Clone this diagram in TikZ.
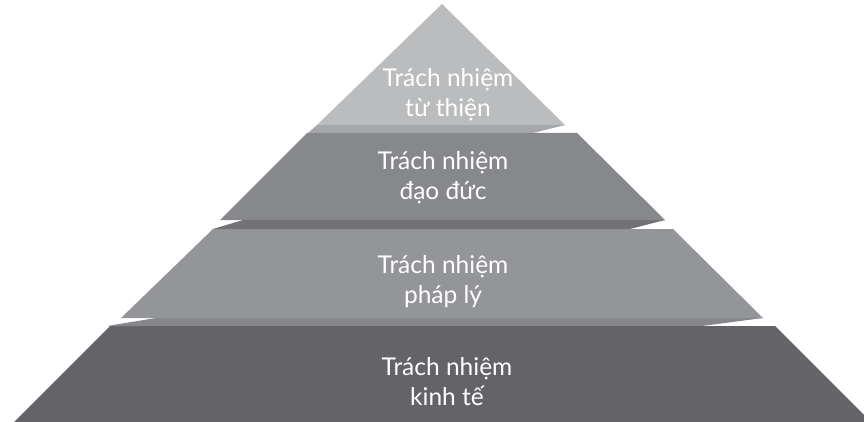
\documentclass[tikz,border=0pt]{standalone}
\usepackage{fontspec}
\setmainfont{Lato}
\definecolor{tierone}{RGB}{186,188,190}
\definecolor{edgeone}{RGB}{165,167,170}
\definecolor{tiertwo}{RGB}{134,136,139}
\definecolor{edgetwo}{RGB}{114,113,117}
\definecolor{tierthree}{RGB}{147,149,152}
\definecolor{edgethree}{RGB}{133,135,138}
\definecolor{tierfour}{RGB}{100,99,104}
\begin{document}
\begin{tikzpicture}[x=1pt,y=-1pt,
  lbl/.style={text=white,align=center,inner sep=0pt,
    font=\fontsize{24.5}{30}\selectfont}]
\useasboundingbox (0,0) rectangle (864,422);

\fill[tierfour] (110,326) -- (775,326) -- (871,422) -- (14,422) -- cycle;
\fill[edgethree] (162,317) -- (763,318) -- (702,326) -- (107,326) -- cycle;
\fill[tierthree] (213,229) -- (673,229) -- (763,318) -- (121,318) -- cycle;
\fill[edgetwo] (243,220) -- (665,220) -- (630,229) -- (213,229) -- cycle;
\fill[tiertwo] (307,133) -- (577,133) -- (665,220) -- (220,220) -- cycle;
\fill[edgeone] (317,125) -- (565,125) -- (533,133) -- (308,133) -- cycle;
\fill[tierone] (442,4) -- (565,125) -- (317,125) -- cycle;

\node[lbl] (tuthien) at (448,95) {Trách nhiệm\\từ thiện};
\node[lbl] (daoduc) at (443,178) {Trách nhiệm\\đạo đức};
\node[lbl] (phaply) at (443,282) {Trách nhiệm\\pháp lý};
\node[lbl] (kinhte) at (447,382) {Trách nhiệm\\kinh tế};
\end{tikzpicture}
\end{document}
